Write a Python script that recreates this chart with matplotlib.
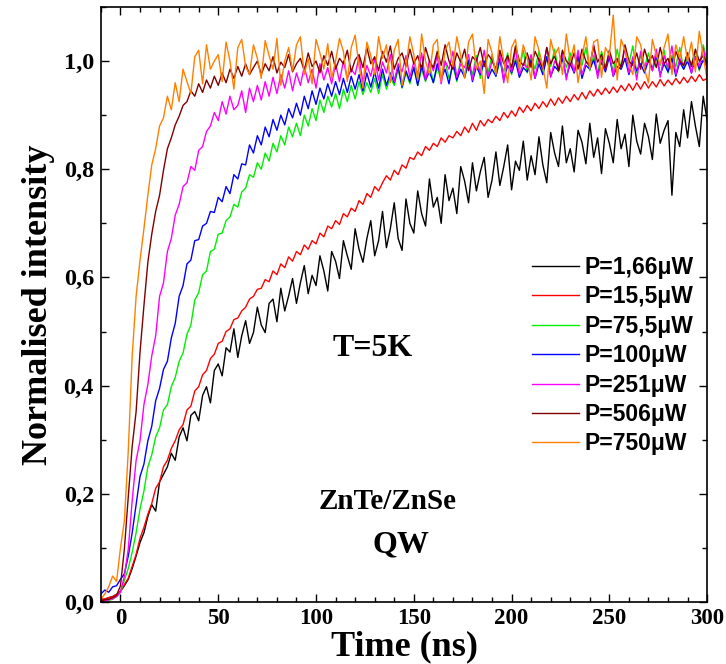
import numpy as np
import matplotlib
matplotlib.use("Agg")
import matplotlib.pyplot as plt
from matplotlib.ticker import MultipleLocator

# sampling grid of the streak camera traces (ns)
time_ns = np.arange(-10, 301, 2)

# normalised intensities, in units of 1/1000
p_166 = [5, 4, 8, 10, 14, 20, 30, 42, 62, 85,
         110, 128, 158, 180, 168, 222, 236, 250, 275, 262,
         305, 322, 298, 345, 352, 335, 382, 398, 368, 428,
         440, 418, 470, 462, 505, 452, 492, 520, 478, 498,
         545, 512, 498, 552, 560, 518, 580, 538, 566, 598,
         552, 590, 622, 570, 604, 585, 640, 612, 575, 648,
         630, 598, 668, 640, 615, 690, 652, 628, 672, 705,
         640, 668, 722, 655, 690, 738, 672, 650, 745, 700,
         682, 760, 718, 695, 782, 730, 748, 700, 790, 742,
         765, 718, 805, 778, 738, 812, 760, 795, 822, 748,
         780, 832, 770, 805, 845, 762, 815, 798, 852, 780,
         825, 790, 860, 808, 775, 868, 830, 805, 880, 812,
         838, 795, 872, 850, 810, 885, 822, 858, 792, 875,
         848, 812, 892, 838, 865, 805, 900, 852, 828, 885,
         860, 818, 902, 848, 872, 890, 752, 868, 842, 910,
         858, 925, 880, 842, 935, 890]

p_155 = [5, 6, 8, 10, 14, 20, 32, 44, 66, 88,
         118, 138, 162, 182, 210, 222, 250, 262, 284, 298,
         318, 328, 355, 362, 390, 398, 420, 428, 450, 458,
         478, 482, 500, 505, 522, 525, 538, 545, 560, 565,
         578, 580, 596, 592, 612, 605, 625, 618, 638, 630,
         648, 642, 660, 652, 668, 662, 682, 675, 695, 690,
         705, 698, 718, 712, 728, 722, 742, 735, 755, 748,
         768, 760, 775, 788, 780, 798, 790, 808, 802, 822,
         818, 832, 825, 842, 835, 848, 842, 858, 850, 862,
         858, 870, 862, 878, 868, 885, 872, 890, 880, 892,
         886, 898, 890, 905, 895, 908, 898, 915, 905, 918,
         908, 922, 912, 925, 915, 930, 918, 932, 922, 935,
         925, 938, 928, 942, 930, 945, 935, 948, 938, 950,
         940, 952, 942, 955, 945, 958, 946, 960, 948, 962,
         950, 962, 952, 966, 954, 965, 956, 968, 958, 970,
         960, 972, 962, 975, 964, 968]

p_755 = [0, 2, 3, 5, 10, 18, 40, 62, 92, 128,
         172, 205, 250, 272, 305, 322, 355, 365, 398, 415,
         445, 460, 495, 512, 558, 572, 605, 612, 648, 652,
         680, 682, 705, 712, 735, 730, 758, 765, 790, 785,
         812, 800, 830, 815, 848, 832, 862, 845, 878, 860,
         885, 862, 900, 880, 912, 890, 928, 905, 935, 915,
         940, 912, 948, 925, 955, 930, 962, 938, 960, 942,
         968, 940, 975, 948, 970, 955, 985, 950, 978, 958,
         990, 955, 985, 962, 995, 960, 988, 965, 1000, 968,
         992, 962, 1005, 970, 995, 975, 1010, 968, 1000, 978,
         1012, 972, 1000, 980, 1015, 975, 1005, 985, 1020, 978,
         1005, 985, 1018, 975, 1008, 990, 1022, 980, 1010, 988,
         1015, 978, 1005, 992, 1025, 982, 1010, 975, 1018, 990,
         1008, 980, 1022, 985, 1005, 995, 1028, 978, 1012, 988,
         1015, 982, 1005, 992, 1020, 978, 1010, 990, 1025, 985,
         1008, 995, 1018, 982, 1030, 1000]

p_100 = [15, 22, 18, 28, 30, 42, 52, 85, 128, 180,
         232, 255, 298, 325, 372, 395, 430, 445, 488, 515,
         565, 585, 625, 632, 668, 670, 695, 700, 722, 720,
         748, 740, 768, 755, 790, 782, 810, 808, 845, 830,
         862, 845, 878, 860, 892, 872, 900, 882, 912, 895,
         922, 900, 935, 912, 945, 920, 950, 930, 958, 935,
         962, 938, 968, 942, 972, 948, 975, 945, 978, 952,
         980, 950, 985, 955, 978, 960, 990, 952, 982, 962,
         988, 955, 992, 965, 980, 960, 995, 968, 985, 958,
         998, 965, 985, 970, 1002, 962, 990, 975, 1000, 968,
         985, 972, 1005, 965, 992, 978, 1000, 970, 988, 980,
         1002, 968, 995, 975, 1008, 972, 990, 982, 1005, 970,
         995, 978, 1010, 968, 992, 985, 1002, 975, 998, 980,
         1008, 972, 990, 985, 1005, 975, 1000, 982, 995, 978,
         1002, 985, 1010, 975, 995, 980, 1005, 972, 998, 985,
         1000, 978, 1008, 985, 1002, 990]

p_251 = [0, 2, 4, 6, 10, 18, 48, 98, 188, 262,
         298, 365, 402, 455, 492, 565, 590, 648, 672, 715,
         735, 768, 775, 805, 798, 835, 842, 870, 880, 905,
         890, 925, 902, 935, 910, 918, 945, 905, 950, 925,
         955, 928, 962, 935, 970, 940, 975, 950, 982, 945,
         978, 955, 990, 960, 985, 950, 995, 965, 988, 958,
         995, 962, 1000, 968, 985, 975, 1008, 960, 992, 972,
         1005, 965, 998, 978, 1012, 962, 995, 980, 1010, 970,
         998, 975, 1015, 965, 1002, 982, 1010, 958, 1000, 985,
         1018, 970, 995, 988, 1012, 965, 1005, 978, 1020, 972,
         1000, 985, 1015, 960, 1008, 980, 1022, 975, 995, 988,
         1012, 968, 1005, 985, 1025, 970, 1000, 990, 1015, 965,
         1008, 980, 1020, 975, 998, 992, 1030, 968, 1005, 985,
         1015, 972, 1002, 988, 1025, 978, 1008, 965, 1018, 990,
         1000, 982, 1022, 970, 1010, 988, 1028, 975, 1005, 992,
         1015, 978, 1008, 990, 1025, 985]

p_506 = [2, 4, 5, 8, 12, 30, 98, 195, 288, 352,
         462, 548, 628, 680, 722, 752, 798, 838, 858, 882,
         898, 918, 925, 945, 935, 958, 942, 965, 950, 972,
         955, 978, 960, 985, 968, 990, 972, 995, 975, 988,
         1000, 975, 995, 982, 1008, 978, 998, 988, 1012, 980,
         995, 1005, 982, 1015, 990, 1000, 978, 1010, 992, 1018,
         985, 1005, 995, 1020, 980, 1002, 1012, 988, 1025, 995,
         1008, 982, 1018, 998, 1028, 985, 1005, 1015, 990, 1022,
         995, 1010, 985, 1025, 1000, 988, 1018, 992, 1030, 1000,
         985, 1015, 998, 1022, 982, 1008, 1000, 1025, 990, 1012,
         1002, 985, 1020, 995, 1010, 988, 1028, 1000, 992, 1015,
         988, 1018, 1002, 985, 1025, 995, 1010, 982, 1020, 1000,
         992, 1015, 985, 1022, 1000, 990, 1028, 998, 1012, 985,
         1020, 995, 1005, 988, 1030, 1000, 992, 1015, 985, 1022,
         998, 1010, 988, 1025, 995, 1005, 982, 1018, 1000, 992,
         1015, 990, 1022, 1000, 1010, 995]

p_750 = [5, 15, 28, 48, 38, 100, 150, 280, 455, 565,
         632, 690, 752, 808, 838, 880, 895, 935, 910, 960,
         925, 985, 962, 940, 1008, 1020, 958, 1030, 985, 1000,
         1012, 962, 1035, 1000, 948, 1025, 1040, 990, 975, 1030,
         1005, 968, 1038, 1010, 985, 1042, 955, 1000, 1025, 982,
         1030, 1045, 975, 1005, 958, 1040, 1015, 985, 1032, 968,
         1000, 1042, 1018, 962, 1025, 1048, 990, 950, 1035, 1010,
         975, 1045, 1005, 1030, 960, 1020, 1040, 955, 990, 1045,
         1012, 965, 1050, 1000, 975, 1030, 1040, 962, 1020, 1035,
         990, 1045, 1010, 968, 1035, 1050, 985, 1000, 940, 1040,
         1015, 975, 1045, 1000, 960, 1025, 1040, 985, 1030, 1005,
         965, 1045, 1020, 990, 950, 1040, 1010, 1025, 975, 1050,
         1000, 1030, 960, 1008, 1045, 985, 1035, 1040, 970, 1025,
         1010, 1085, 965, 1040, 1020, 995, 975, 1045, 1030, 985,
         960, 1040, 1010, 995, 1025, 1050, 975, 1030, 1005, 1045,
         1000, 1035, 980, 1055, 1010, 965]

labels = [u"P=1,66\u03bcW", u"P=15,5\u03bcW", u"P=75,5\u03bcW", u"P=100\u03bcW",
          u"P=251\u03bcW", u"P=506\u03bcW", u"P=750\u03bcW"]
colors = ['#000000', '#ff0000', '#00ee00', '#0000ff', '#ff00ff', '#800000', '#ff8000']
series = [p_166, p_155, p_755, p_100, p_251, p_506, p_750]

yticks = [0.0, 0.2, 0.4, 0.6, 0.8, 1.0]
yticklabels = ['0,0', '0,2', '0,4', '0,6', '0,8', '1,0']
xticks = [0, 50, 100, 150, 200, 250, 300]

serif = 'Liberation Serif'
sans = 'Liberation Sans'

fig = plt.figure(figsize=(7.26, 6.64), dpi=100)
ax = fig.add_axes([0.139, 0.0934, 0.835, 0.8961])

for vals, c, lab in zip(series, colors, labels):
    ax.plot(time_ns, np.array(vals) / 1000.0, color=c, lw=1.0, label=lab)

ax.set_xlim(-10, 300)
ax.set_ylim(0, 1.1)

ax.set_xticks(xticks)
ax.xaxis.set_minor_locator(MultipleLocator(10))
ax.set_yticks(yticks)
ax.set_yticklabels(yticklabels)
ax.yaxis.set_minor_locator(MultipleLocator(0.1))

ax.tick_params(which='both', direction='in', top=True, right=True, width=1.0)
ax.tick_params(which='major', length=6)
ax.tick_params(which='minor', length=3.5)
ax.tick_params(axis='x', pad=4)
ax.tick_params(axis='y', pad=5)
for lab in ax.get_xticklabels():
    lab.set_fontfamily(serif)
    lab.set_fontweight('bold')
    lab.set_fontsize(16.5)
for lab in ax.get_yticklabels():
    lab.set_fontfamily(serif)
    lab.set_fontweight('bold')
    lab.set_fontsize(17.5)

for sp in ax.spines.values():
    sp.set_linewidth(1.2)

ax.set_xlabel("Time (ns)", fontfamily=serif, fontweight='bold', fontsize=26, labelpad=1)
ax.set_ylabel("Normalised intensity", fontfamily=serif, fontweight='bold', fontsize=26, labelpad=6)

ax.text(108.5, 0.455, "T=5K", fontfamily=serif, fontweight='bold', fontsize=23,
        ha='left', va='baseline')
ax.text(136.7, 0.1725, "ZnTe/ZnSe", fontfamily=serif, fontweight='bold', fontsize=21,
        ha='center', va='baseline')
ax.text(143.4, 0.091, "QW", fontfamily=serif, fontweight='bold', fontsize=23,
        ha='center', va='baseline')

leg = ax.legend(loc='upper left', bbox_to_anchor=(0.711, 0.5815), frameon=False,
                borderpad=0, borderaxespad=0, handlelength=2.05, handletextpad=0.25,
                labelspacing=0.28, prop={'family': sans, 'weight': 'bold', 'size': 16.5})

fig.savefig("out.png", dpi=100)
